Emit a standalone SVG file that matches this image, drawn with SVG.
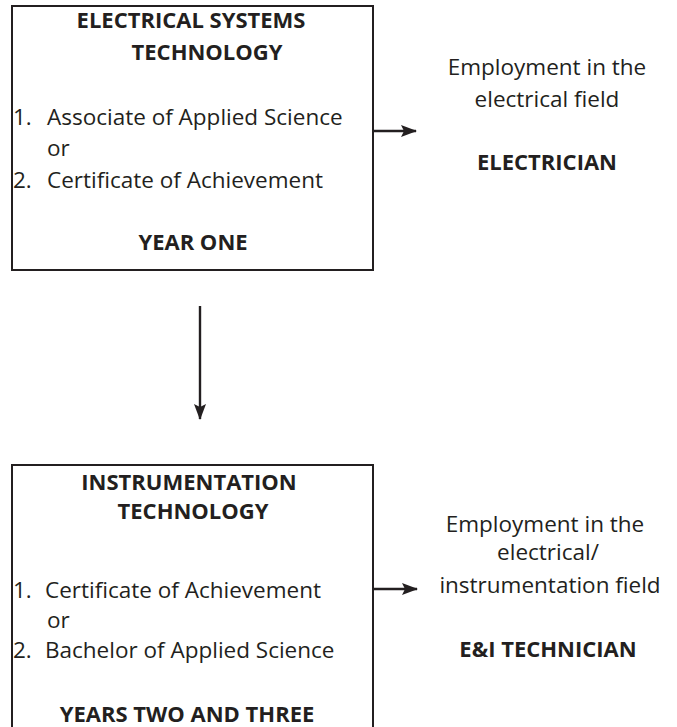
<svg xmlns="http://www.w3.org/2000/svg" width="677" height="727" viewBox="0 0 677 727">
<style>
text{font-family:"Open Sans","Liberation Sans",sans-serif;fill:#231f20;font-size:22.5px}
.b{font-weight:bold;font-size:22px}
.c{text-anchor:middle}
.box{fill:#fff;stroke:#231f20;stroke-width:2}
.con{stroke:#231f20;stroke-width:2.4;fill:none}
</style>
<defs>
<marker id="ah" markerWidth="16" markerHeight="12" refX="15" refY="6" orient="auto" markerUnits="userSpaceOnUse">
<path d="M0,0 L16,6 L0,12 L3,6 Z" fill="#231f20"/>
</marker>
</defs>
<rect width="677" height="727" fill="#fff"/>
<g id="box1">
<rect class="box" x="12" y="6" width="361" height="264"/>
<text class="b c" x="191" y="28">ELECTRICAL SYSTEMS</text>
<text class="b c" x="207" y="60">TECHNOLOGY</text>
<text x="13" y="125">1.</text><text x="47" y="125">Associate of Applied Science</text>
<text x="47" y="156">or</text>
<text x="13" y="188">2.</text><text x="47" y="188">Certificate of Achievement</text>
<text class="b c" x="193" y="250">YEAR ONE</text>
</g>
<g id="out1">
<text class="c" x="547" y="75">Employment in the</text>
<text class="c" x="547" y="107">electrical field</text>
<text class="b c" x="547" y="170">ELECTRICIAN</text>
</g>
<g id="box2">
<rect class="box" x="12" y="465" width="361" height="280"/>
<text class="b c" x="189" y="490">INSTRUMENTATION</text>
<text class="b c" x="193" y="519">TECHNOLOGY</text>
<text x="13" y="598">1.</text><text x="45" y="598">Certificate of Achievement</text>
<text x="47" y="628">or</text>
<text x="13" y="658">2.</text><text x="45" y="658">Bachelor of Applied Science</text>
<text class="b c" x="187" y="722">YEARS TWO AND THREE</text>
</g>
<g id="out2">
<text class="c" x="545" y="532">Employment in the</text>
<text class="c" x="548" y="560">electrical/</text>
<text class="c" x="550" y="593">instrumentation field</text>
<text class="b c" x="548" y="657">E&amp;I TECHNICIAN</text>
</g>
<g id="connectors">
<line class="con" x1="373" y1="131" x2="416" y2="131" marker-end="url(#ah)"/>
<line class="con" x1="373" y1="589" x2="417" y2="589" marker-end="url(#ah)"/>
<line class="con" x1="200" y1="306" x2="200" y2="419" marker-end="url(#ah)"/>
</g>
</svg>
